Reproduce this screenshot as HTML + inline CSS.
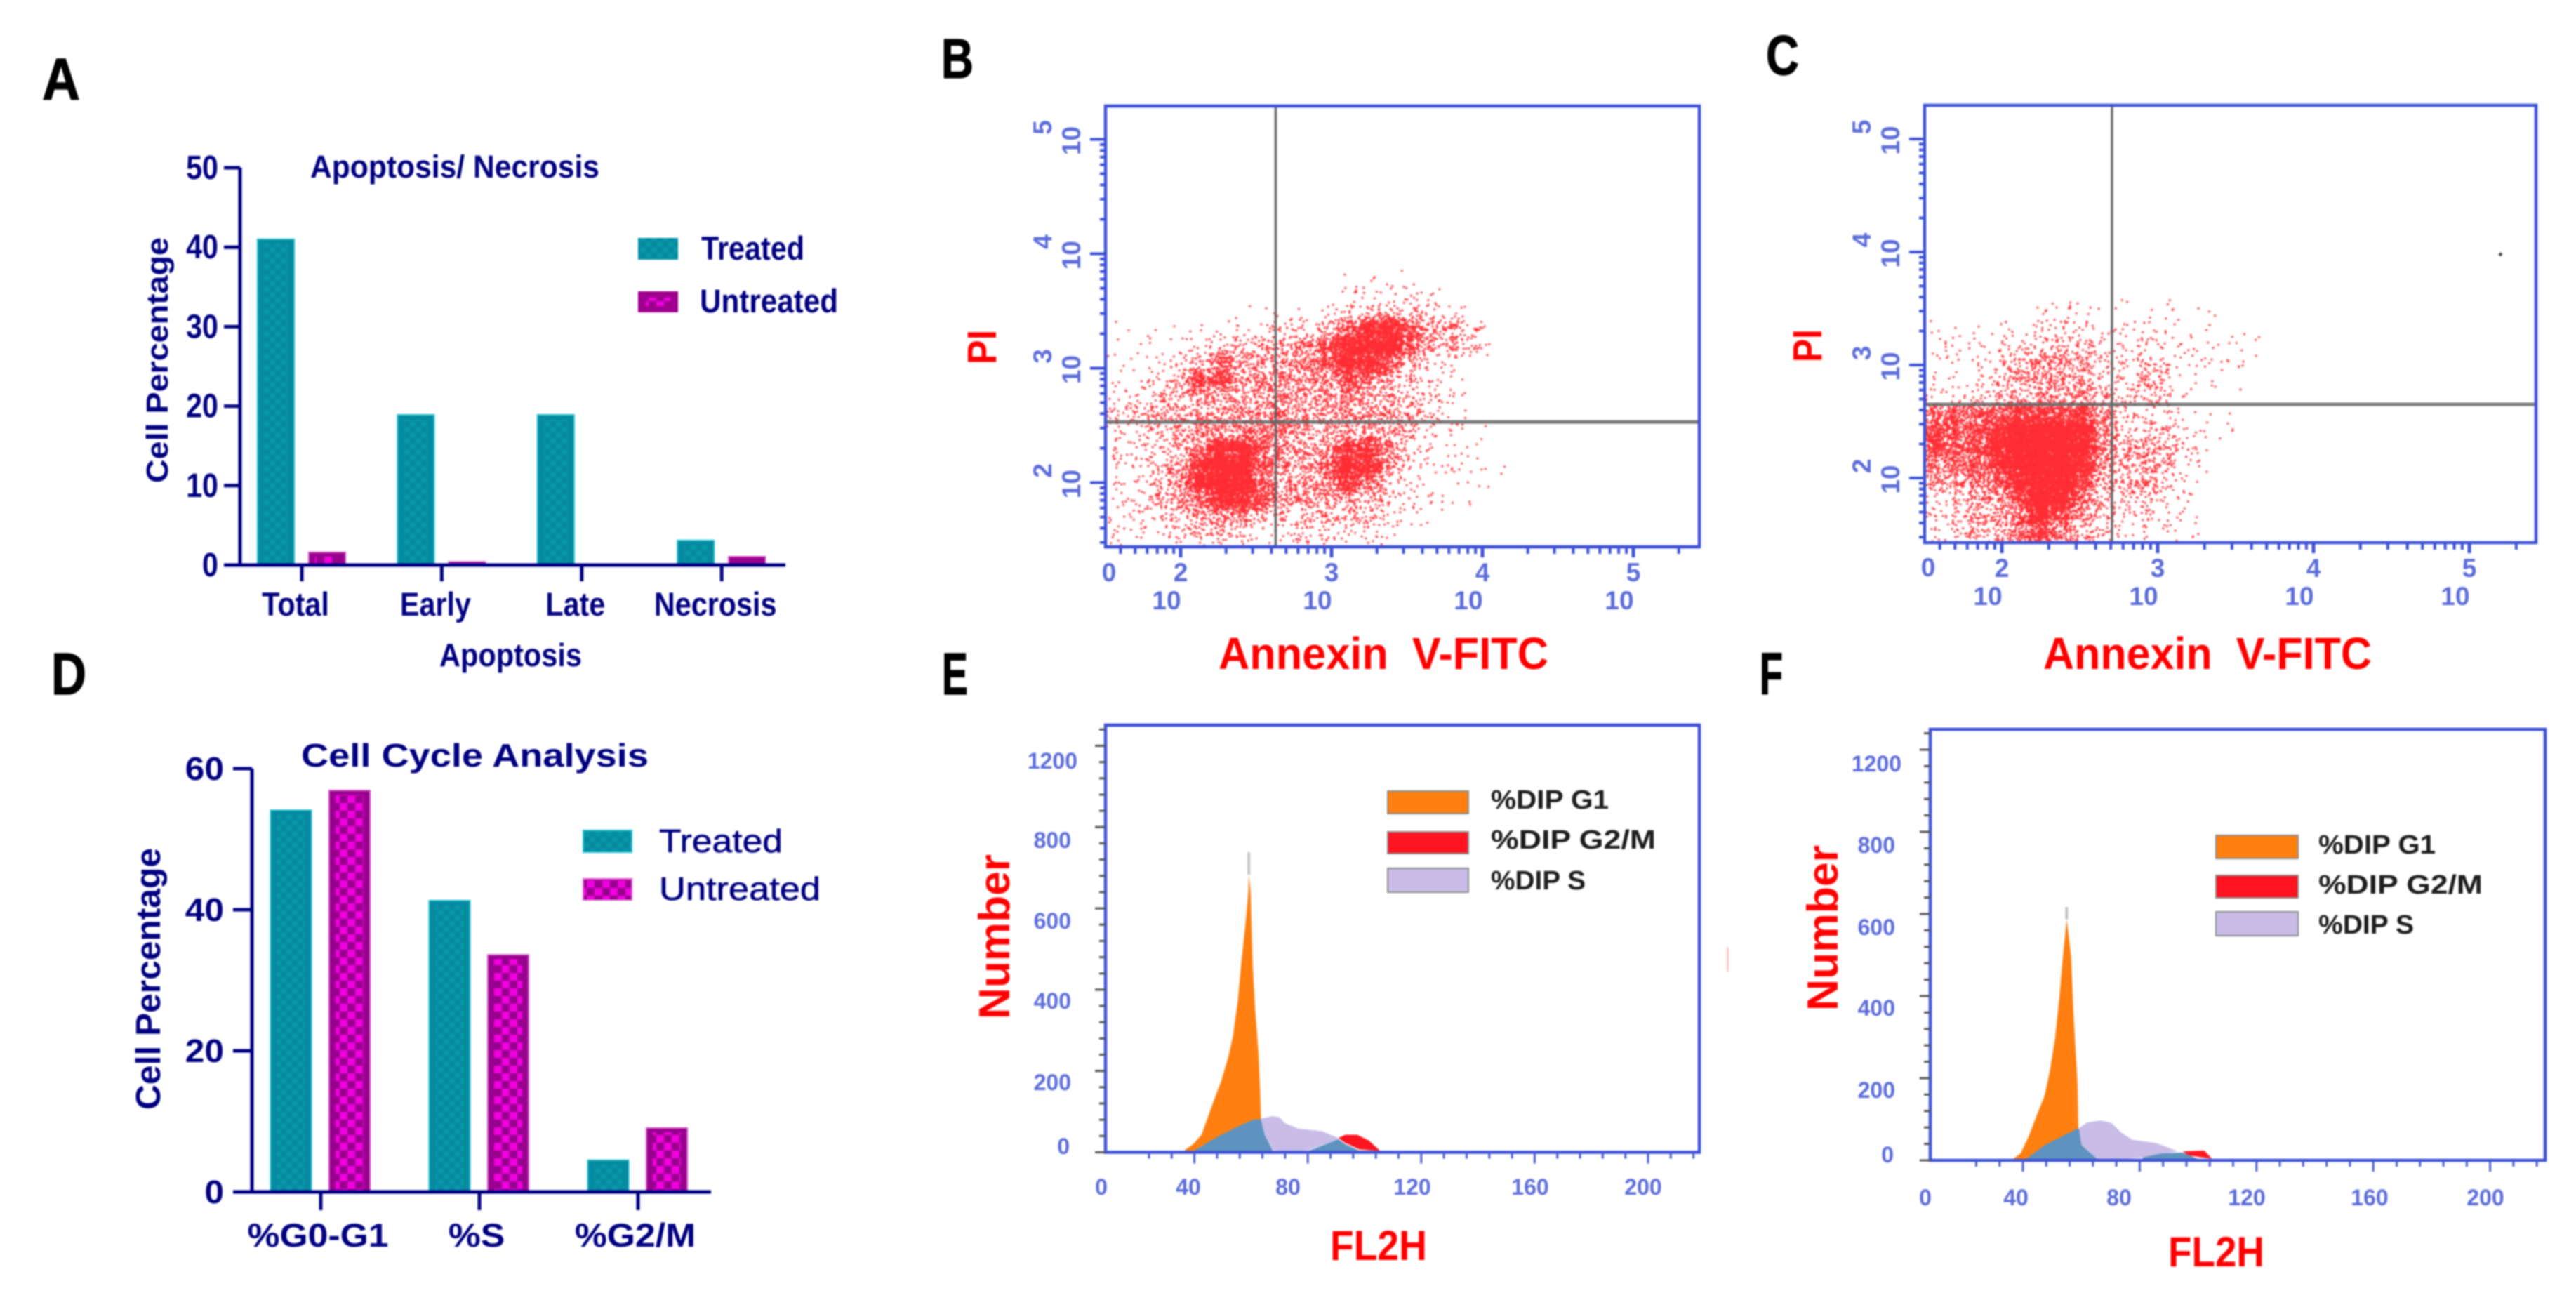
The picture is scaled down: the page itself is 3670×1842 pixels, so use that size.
<!DOCTYPE html>
<html lang="en">
<head>
<meta charset="utf-8">
<title>Apoptosis and cell cycle analysis figure</title>
<style>
html,body{margin:0;padding:0;background:#fff;}
svg{display:block;filter:blur(1px);}
text{font-family:"Liberation Sans",sans-serif;white-space:pre;}
.lt{font-weight:700;fill:#000;stroke:#000;stroke-width:1.2px;}
.nv{font-weight:700;fill:#000080;}
.nn{font-weight:400;fill:#000080;stroke:#000080;stroke-width:.6px;}
.rd{font-weight:700;fill:#ff0000;}
.bl{font-weight:700;fill:#5b6cd8;}
.lg{font-weight:700;fill:#1c1c1c;}
</style>
</head>
<body>
<svg id="fig" xmlns="http://www.w3.org/2000/svg" width="3670" height="1842" viewBox="0 0 3670 1842">
<defs>
<pattern id="chkM" width="22" height="22" patternUnits="userSpaceOnUse"><rect width="22" height="22" fill="#98008e"/><rect width="11" height="11" fill="#f000de"/><rect x="11" y="11" width="11" height="11" fill="#f000de"/></pattern>
<pattern id="chkT" width="16" height="16" patternUnits="userSpaceOnUse"><rect width="16" height="16" fill="#058aa0"/><rect width="8" height="8" fill="#0996ab"/><rect x="8" y="8" width="8" height="8" fill="#0996ab"/></pattern>
<filter id="soft" x="-5%" y="-5%" width="110%" height="110%"><feGaussianBlur stdDeviation="0.6"/></filter>
<clipPath id="clipB"><rect x="1575" y="151" width="846" height="640"/></clipPath>
<clipPath id="clipC"><rect x="2742" y="150" width="871" height="625"/></clipPath>
</defs>
<rect width="3670" height="1842" fill="#fff"/>

<text class="lt" x="60" y="142" font-size="84" textLength="54" lengthAdjust="spacingAndGlyphs">A</text>
<text class="lt" x="1341" y="111" font-size="80" textLength="46" lengthAdjust="spacingAndGlyphs">B</text>
<text class="lt" x="2516" y="106" font-size="80" textLength="47" lengthAdjust="spacingAndGlyphs">C</text>
<text class="lt" x="73" y="989" font-size="84" textLength="50" lengthAdjust="spacingAndGlyphs">D</text>
<text class="lt" x="1342" y="989" font-size="84" textLength="37" lengthAdjust="spacingAndGlyphs">E</text>
<text class="lt" x="2507" y="989" font-size="84" textLength="33" lengthAdjust="spacingAndGlyphs">F</text>

<g id="panelA">
<text class="nv" x="442" y="253" font-size="45" textLength="412" lengthAdjust="spacingAndGlyphs">Apoptosis/ Necrosis</text>
<text class="nv" transform="translate(239,688) rotate(-90)" font-size="44" textLength="350" lengthAdjust="spacingAndGlyphs">Cell Percentage</text>
<text class="nv" x="626" y="949" font-size="46" textLength="203" lengthAdjust="spacingAndGlyphs">Apoptosis</text>
<rect x="909" y="339" width="57" height="31" fill="url(#chkT)"/>
<text class="nv" x="999" y="370" font-size="47" textLength="147" lengthAdjust="spacingAndGlyphs">Treated</text>
<rect x="909" y="415" width="57" height="30" fill="#a0008e"/>
<rect x="920" y="424" width="35" height="12" fill="url(#chkM)"/>
<text class="nv" x="997" y="445" font-size="47" textLength="197" lengthAdjust="spacingAndGlyphs">Untreated</text>
</g>

<g id="panelD">
<text class="nv" x="429" y="1092" font-size="46" textLength="495" lengthAdjust="spacingAndGlyphs">Cell Cycle Analysis</text>
<text class="nv" transform="translate(228,1581) rotate(-90)" font-size="49" textLength="373" lengthAdjust="spacingAndGlyphs">Cell Percentage</text>
<rect x="831" y="1183" width="69" height="31" fill="url(#chkT)" stroke="#20c0cc" stroke-width="2"/>
<text class="nn" x="939" y="1214" font-size="46" textLength="176" lengthAdjust="spacingAndGlyphs">Treated</text>
<rect x="831" y="1252" width="69" height="30" fill="url(#chkM)" stroke="#d860c8" stroke-width="2"/>
<text class="nn" x="939" y="1282" font-size="46" textLength="230" lengthAdjust="spacingAndGlyphs">Untreated</text>
</g>

<g id="panelB">
<text class="rd" transform="translate(1419,519) rotate(-90)" font-size="58" textLength="49" lengthAdjust="spacingAndGlyphs">PI</text>
<text class="rd" x="1736" y="953" font-size="64" textLength="470" lengthAdjust="spacingAndGlyphs">Annexin  V-FITC</text>
<text class="bl" x="1580" y="828" font-size="37" text-anchor="middle">0</text>
</g>

<g id="panelC">
<text class="rd" transform="translate(2595,516) rotate(-90)" font-size="58" textLength="47" lengthAdjust="spacingAndGlyphs">PI</text>
<text class="rd" x="2911" y="953" font-size="64" textLength="468" lengthAdjust="spacingAndGlyphs">Annexin  V-FITC</text>
<text class="bl" x="2747" y="821" font-size="37" text-anchor="middle">0</text>
</g>

<g id="panelE">
<text class="bl" x="1535" y="1095" font-size="32" text-anchor="end">1200</text>
<text class="bl" x="1526" y="1208" font-size="32" text-anchor="end">800</text>
<text class="bl" x="1526" y="1323" font-size="32" text-anchor="end">600</text>
<text class="bl" x="1526" y="1437" font-size="32" text-anchor="end">400</text>
<text class="bl" x="1526" y="1553" font-size="32" text-anchor="end">200</text>
<text class="bl" x="1524" y="1644" font-size="32" text-anchor="end">0</text>
<text class="bl" x="1569" y="1702" font-size="32" text-anchor="middle">0</text>
<text class="bl" x="1693" y="1702" font-size="32" text-anchor="middle">40</text>
<text class="bl" x="1835" y="1702" font-size="32" text-anchor="middle">80</text>
<text class="bl" x="2012" y="1702" font-size="32" text-anchor="middle">120</text>
<text class="bl" x="2180" y="1702" font-size="32" text-anchor="middle">160</text>
<text class="bl" x="2341" y="1702" font-size="32" text-anchor="middle">200</text>
<text class="rd" transform="translate(1438,1452) rotate(-90)" font-size="62" textLength="235" lengthAdjust="spacingAndGlyphs">Number</text>
<text class="rd" x="1895" y="1795" font-size="60" textLength="138" lengthAdjust="spacingAndGlyphs">FL2H</text>
<rect x="1977" y="1127" width="115" height="32" fill="#ff7f10" stroke="#8a8a8a" stroke-width="2"/>
<rect x="1977" y="1185" width="115" height="31" fill="#ff1420" stroke="#8a8a8a" stroke-width="2"/>
<rect x="1977" y="1237" width="115" height="34" fill="#c9bde8" stroke="#8a8a8a" stroke-width="2"/>
<text class="lg" x="2124" y="1152" font-size="38" textLength="168" lengthAdjust="spacingAndGlyphs">%DIP G1</text>
<text class="lg" x="2124" y="1209" font-size="38" textLength="235" lengthAdjust="spacingAndGlyphs">%DIP G2/M</text>
<text class="lg" x="2124" y="1267" font-size="38" textLength="135" lengthAdjust="spacingAndGlyphs">%DIP S</text>
<rect x="2460" y="1349" width="3" height="35" fill="#ffc8c8"/>
</g>

<g id="panelF">
<text class="bl" x="2709" y="1099" font-size="32" text-anchor="end">1200</text>
<text class="bl" x="2700" y="1215" font-size="32" text-anchor="end">800</text>
<text class="bl" x="2700" y="1332" font-size="32" text-anchor="end">600</text>
<text class="bl" x="2700" y="1447" font-size="32" text-anchor="end">400</text>
<text class="bl" x="2700" y="1564" font-size="32" text-anchor="end">200</text>
<text class="bl" x="2698" y="1656" font-size="32" text-anchor="end">0</text>
<text class="bl" x="2743" y="1717" font-size="32" text-anchor="middle">0</text>
<text class="bl" x="2872" y="1717" font-size="32" text-anchor="middle">40</text>
<text class="bl" x="3019" y="1717" font-size="32" text-anchor="middle">80</text>
<text class="bl" x="3201" y="1717" font-size="32" text-anchor="middle">120</text>
<text class="bl" x="3376" y="1717" font-size="32" text-anchor="middle">160</text>
<text class="bl" x="3541" y="1717" font-size="32" text-anchor="middle">200</text>
<text class="rd" transform="translate(2618,1440) rotate(-90)" font-size="62" textLength="236" lengthAdjust="spacingAndGlyphs">Number</text>
<text class="rd" x="3089" y="1804" font-size="60" textLength="137" lengthAdjust="spacingAndGlyphs">FL2H</text>
<rect x="3157" y="1190" width="117" height="33" fill="#ff7f10" stroke="#8a8a8a" stroke-width="2"/>
<rect x="3157" y="1247" width="117" height="32" fill="#ff1420" stroke="#8a8a8a" stroke-width="2"/>
<rect x="3157" y="1299" width="117" height="34" fill="#c9bde8" stroke="#8a8a8a" stroke-width="2"/>
<text class="lg" x="3303" y="1216" font-size="38" textLength="167" lengthAdjust="spacingAndGlyphs">%DIP G1</text>
<text class="lg" x="3303" y="1273" font-size="38" textLength="234" lengthAdjust="spacingAndGlyphs">%DIP G2/M</text>
<text class="lg" x="3303" y="1330" font-size="38" textLength="136" lengthAdjust="spacingAndGlyphs">%DIP S</text>
</g>
</svg>

<script>
/* ---------- Panel A data ---------- */
const apopCategories = ['Total', 'Early', 'Late', 'Necrosis'];
const apopTreated = [41, 18.9, 18.9, 3.1];
const apopUntreated = [1.6, 0.4, 0.05, 1.06];
const apopYTicks = [0, 10, 20, 30, 40, 50];

/* ---------- Panel D data ---------- */
const cycleCategories = ['%G0-G1', '%S', '%G2/M'];
const cycleTreated = [54.1, 41.3, 4.5];
const cycleUntreated = [56.9, 33.6, 9.05];
const cycleYTicks = [0, 20, 40, 60];

/* ---------- Scatter panels: events per density cell ---------- */
const scatterBDensity = [
  [0,0,0,0,0,0,0,0,0,0,0,1,2,0,1,0,0,0],
  [0,0,0,0,0,0,0,0,0,0,0,2,5,4,6,4,0,0],
  [0,0,0,0,0,0,1,1,1,2,4,10,15,15,14,8,3,0],
  [1,1,1,0,2,3,4,5,8,10,18,60,170,190,90,30,30,12],
  [1,1,2,3,6,12,15,20,25,45,90,220,270,270,90,20,25,12],
  [1,2,4,8,18,80,30,25,30,50,80,220,180,90,18,5,5,0],
  [2,3,8,18,110,110,30,40,40,30,40,90,50,25,15,5,3,0],
  [3,8,15,25,30,25,30,35,40,30,35,45,30,25,20,8,4,0],
  [10,15,25,25,30,28,35,35,50,28,30,35,35,30,22,12,3,0],
  [6,8,15,25,35,40,50,50,50,30,25,25,35,28,20,6,4,1],
  [8,6,10,18,60,210,210,70,40,30,35,150,150,40,10,4,3,2],
  [3,5,10,30,170,330,280,80,35,22,70,210,180,40,8,3,4,3,1],
  [3,5,15,40,200,330,300,75,30,30,55,140,60,14,6,2,1,1],
  [4,6,20,30,70,180,210,90,30,30,25,30,25,10,5,3,2,1],
  [4,5,8,14,25,40,30,12,12,15,20,18,14,8,2,1,0,0],
  [6,4,3,8,16,18,8,3,6,10,6,6,8,1,0,0,0,0]
];
const scatterCDensity = [
  [0,0,0,0,0,3,4,3,1,2,1,2,1,1,0,0],
  [2,2,1,3,2,6,8,8,3,3,3,2,1,1,0,0],
  [2,3,4,5,6,12,14,14,6,5,7,6,3,2,2,3],
  [2,3,4,8,22,40,32,28,10,8,14,8,3,3,3,1],
  [3,2,6,10,25,35,30,25,12,6,25,10,2,2,1,0],
  [6,5,8,14,28,32,30,45,25,10,18,10,2,0,0,0],
  [70,75,75,80,130,120,100,130,35,10,6,5,2,1,1,0],
  [120,100,100,170,340,360,360,260,50,12,10,14,6,1,1,0],
  [120,90,100,220,350,380,380,260,45,25,30,25,8,1,0,0],
  [50,55,80,170,320,360,380,240,40,20,30,18,4,1,0,0],
  [30,30,50,70,220,360,360,120,30,20,30,10,3,0,0,0],
  [8,12,30,30,90,340,250,60,18,10,15,5,3,0,0,0],
  [6,12,30,30,70,220,80,30,15,5,10,6,3,0,0,0],
  [5,8,20,20,55,110,50,25,12,3,6,4,2,0,0,0]
];
const scatterTickExponents = [2, 3, 4, 5];
const scatterBGateX = [2.63];
const scatterBGateY = [2.53];
const scatterCGateX = [2.707];
const scatterCGateY = [2.652];
const scatterCStrayX = [5.2];
const scatterCStrayY = [3.98];

/* ---------- Panel E histogram outlines: FL2H channel and event count ---------- */
const eG1Channel = [36.7,39.6,42.5,44.6,47,49.5,51.9,53.6,55.3,56.5,58.1,59,59.2,59.8,60.6,61.4,62.6,63.3,63.5];
const eG1Count = [6,20,43,83,130,176,233,285,371,463,567,640,683,640,458,354,245,130,83];
const eSChannel = [63.5,67.7,70.1,71.8,76.7,85,90.8,90.8,80.1,73.4,67.7,64.8];
const eSCount = [83,89,86,72,58,52,35,32,5,2,5,43];
const eG2Channel = [90.8,93.2,97.4,101.5,105.6,98.2,93.2];
const eG2Count = [35,43,43,29,3,7,23];
const eOverlapG1SChannel = [39.6,47.8,56.1,61,63.5,64.8,67.7];
const eOverlapG1SCount = [3,37,66,81,81,43,3];
const eOverlapSG2Channel = [80.1,90.8,93.2,98.2];
const eOverlapSG2Count = [3,32,20,4];
const eSpikeChannel = [59.2];
const eSpikeCount = [738];

/* ---------- Panel F histogram outlines ---------- */
const fG1Channel = [36.4,39.2,41.9,44.6,47.4,49.2,51,52.5,53.7,54.7,55,56.5,57.4,58.7,59];
const fG1Count = [2,17,57,107,157,217,297,397,497,567,587,497,347,187,77];
const fSChannel = [59,61.9,66.5,70.2,73.8,77.5,85.7,93,82,71.1,65.6,60.1];
const fSCount = [77,92,97,92,67,50,42,22,7,2,2,37];
const fG2Channel = [94.8,102.1,104.8,96.6];
const fG2Count = [22,24,4,12];
const fOverlapG1SChannel = [40.9,47.4,58.5,59.2,60.1,65.6];
const fOverlapG1SCount = [2,37,77,77,37,2];
const fOverlapSG2Channel = [81,87.5,94.8,100.3];
const fOverlapSG2Count = [7,17,19,2];
const fSpikeChannel = [55];
const fSpikeCount = [617];

/* ---------- Shared histogram axis ---------- */
const histYTicks = [0,40,80,120,160,200,240,280,320,360,400,440,480,520,560,600,640,680,720,760,800,840,880,920,960,1000,1040];
const histXTicks = [24,32,40,48,56,64,72,80,88,96,104,112,120,128,136,144,152,160,168,176,184,192,200,208,216];

const NS = 'http://www.w3.org/2000/svg';
function mk(parent, tag, attrs) {
  const el = document.createElementNS(NS, tag);
  for (const k in attrs) el.setAttribute(k, attrs[k]);
  parent.appendChild(el);
  return el;
}
function tickLabel(parent, text, x, y, size, stretch, cls, anchor) {
  const el = mk(parent, 'text', {class: cls, 'font-size': size, 'text-anchor': anchor,
    transform: 'translate(' + x + ',' + y + ') scale(' + stretch + ',1)'});
  el.textContent = text;
  return el;
}

/* ---------- Bar charts ---------- */
function drawBars(cfg) {
  const g = document.getElementById(cfg.id);
  const yS = v => cfg.y0 - v * cfg.yUnit;
  const xS = i => cfg.x0 + i * cfg.band;
  function bar(cx, v, base, texture, edge, name) {
    const left = cx - cfg.w / 2;
    const b = mk(g, 'rect', {x: left, y: yS(v), width: cfg.w, height: cfg.y0 - yS(v), fill: base, stroke: edge, 'stroke-width': 2});
    
    
    if (cfg.y0 - yS(v) > 14) {
      const inner = mk(g, 'rect', {x: left + cfg.inset, y: yS(v) + 6, width: cfg.w - cfg.inset * 2, height: cfg.y0 - yS(v) - 6, fill: texture});
      
      
    }
  }
  cfg.treated.forEach((v, i) => bar(xS(i) + cfg.tOff, v, '#058aa0', 'url(#chkT)', '#22bccb', 'bar-treated'));
  cfg.untreated.forEach((v, i) => bar(xS(i) + cfg.uOff, v, '#98008e', 'url(#chkM)', '#d050c0', 'bar-untreated'));
  const yAxis = mk(g, 'line', {x1: cfg.axisX, x2: cfg.axisX, y1: yS(cfg.yTicks[cfg.yTicks.length - 1]), y2: cfg.y0, stroke: '#000080', 'stroke-width': cfg.sw});
  
  
  const xAxis = mk(g, 'line', {x1: cfg.tickLeft, x2: cfg.axisEnd, y1: cfg.y0, y2: cfg.y0, stroke: '#000080', 'stroke-width': cfg.sw});
  
  
  cfg.yTicks.forEach(v => {
    const t = mk(g, 'line', {x1: cfg.tickLeft, x2: cfg.axisX, y1: yS(v), y2: yS(v), stroke: '#000080', 'stroke-width': cfg.sw});
    
    
    const l = tickLabel(g, String(v), cfg.yLabelRight, yS(v) + 16, cfg.ySize, cfg.yStretch, 'nv', 'end');
    
    
  });
  cfg.categories.forEach((c, i) => {
    const t = mk(g, 'line', {x1: xS(i), x2: xS(i), y1: cfg.y0, y2: cfg.tickBottom, stroke: '#000080', 'stroke-width': cfg.sw});
    
    
    const l = tickLabel(g, c, xS(i) + cfg.labelOff, cfg.labelY, cfg.xSize, cfg.xStretch, 'nv', 'middle');
    
    
  });
}
drawBars({id: 'panelA', categories: apopCategories, treated: apopTreated, untreated: apopUntreated, yTicks: apopYTicks,
  x0: 430, band: 199.4, tOff: -37, uOff: 36, w: 52, y0: 805, yUnit: 11.32, axisX: 342, tickLeft: 319, axisEnd: 1119,
  tickBottom: 828, sw: 5, yLabelRight: 311, ySize: 48, yStretch: .86, labelOff: -9, labelY: 877, xSize: 47, xStretch: .88, inset: 9});
drawBars({id: 'panelD', categories: cycleCategories, treated: cycleTreated, untreated: cycleUntreated, yTicks: cycleYTicks,
  x0: 457, band: 226, tOff: -42.5, uOff: 41, w: 58, y0: 1698, yUnit: 10.05, axisX: 359, tickLeft: 332, axisEnd: 1013,
  tickBottom: 1724, sw: 5, yLabelRight: 319, ySize: 46, yStretch: 1.08, labelOff: -4, labelY: 1776, xSize: 47, xStretch: 1.1, inset: 9});

/* ---------- Scatter plots ---------- */
const dotsPerDensityUnit = 1.5;
function scramble(k) {
  const s = Math.sin(k * 12.9898) * 43758.5453;
  return s - Math.floor(s);
}
function drawScatter(cfg) {
  const g = document.getElementById(cfg.id);
  const xS = v => cfg.x2 + (v - 2) * cfg.xDec;
  const yS = v => cfg.y2 - (v - 2) * cfg.yDec;
  let d = '', n = 0;
  cfg.density.forEach((row, r) => {
    row.forEach((count, c) => {
      const total = Math.round(count * dotsPerDensityUnit);
      for (let k = 0; k < total; k++) {
        n += 4;
        const jx = (scramble(n) + scramble(n + 1) - 1) * 0.78 + 0.5;
        const jy = (scramble(n + 2) + scramble(n + 3) - 1) * 0.78 + 0.5;
        const vx = cfg.xStart + (c + jx) * cfg.xStep;
        const vy = cfg.yStart - (r + jy) * cfg.yStep;
        d += 'M' + xS(vx).toFixed(1) + ' ' + yS(vy).toFixed(1) + 'h0';
      }
    });
  });
  const dots = mk(g, 'path', {d: d, fill: 'none', stroke: '#ff1a22', 'stroke-width': 3, 'stroke-linecap': 'round', opacity: .92, filter: 'url(#soft)', 'clip-path': 'url(#' + cfg.clip + ')'});
  
  
  cfg.gateX.forEach(v => {
    const l = mk(g, 'line', {x1: xS(v), x2: xS(v), y1: cfg.top, y2: cfg.bottom, stroke: '#5e5e5e', 'stroke-width': 3.5, opacity: .9});
    
    
  });
  cfg.gateY.forEach(v => {
    const l = mk(g, 'line', {x1: cfg.left, x2: cfg.right, y1: yS(v), y2: yS(v), stroke: '#666', 'stroke-width': 5, opacity: .85});
    
    
  });
  const frame = mk(g, 'rect', {x: cfg.left, y: cfg.top, width: cfg.right - cfg.left, height: cfg.bottom - cfg.top, fill: 'none', stroke: '#3c50d4', 'stroke-width': 4.5});
  
  
  for (let dec = 1; dec <= 5; dec++) {
    for (let m = 1; m <= 9; m++) {
      const v = dec + Math.log10(m);
      const yy = yS(v), xx = xS(v);
      if (yy > cfg.top + 8 && yy < cfg.bottom - 2) {
        const t = mk(g, 'line', {x1: cfg.left - (m === 1 ? 22 : 8), x2: cfg.left, y1: yy, y2: yy, stroke: '#3c50d4', 'stroke-width': 4});
        
        
      }
      if (xx > cfg.left + 8 && xx < cfg.right - 2) {
        const t = mk(g, 'line', {x1: xx, x2: xx, y1: cfg.bottom, y2: cfg.bottom + (m === 1 ? 15 : 10), stroke: '#3c50d4', 'stroke-width': m === 1 ? 5 : 4});
        
        
      }
    }
  }
  scatterTickExponents.forEach(e => {
    const base = mk(g, 'text', {class: 'bl', 'font-size': 37, 'text-anchor': 'middle', transform: 'translate(' + (cfg.left - 36) + ',' + (yS(e) + 2) + ') rotate(-90)'});
    base.textContent = '10';
    
    
    const exp = mk(g, 'text', {class: 'bl', 'font-size': 37, 'text-anchor': 'middle', transform: 'translate(' + (cfg.left - 77) + ',' + (yS(e) - 17) + ') rotate(-90)'});
    exp.textContent = String(e);
    
    
    const xe = mk(g, 'text', {class: 'bl', 'font-size': 37, 'text-anchor': 'middle', x: xS(e), y: cfg.bottom + 49});
    xe.textContent = String(e);
    
    
    const xb = mk(g, 'text', {class: 'bl', 'font-size': 37, 'text-anchor': 'middle', x: xS(e) - 20, y: cfg.bottom + 89});
    xb.textContent = '10';
    
    
  });
  cfg.strayX.forEach((v, i) => {
    const s = mk(g, 'circle', {cx: xS(v), cy: yS(cfg.strayY[i]), r: 2.5, fill: '#444'});
    
    
  });
}
drawScatter({id: 'panelB', density: scatterBDensity, gateX: scatterBGateX, gateY: scatterBGateY, strayX: [], strayY: [],
  left: 1575, right: 2421, top: 151, bottom: 779, x2: 1682, xDec: 215, y2: 687.5, yDec: 163,
  xStart: 1.502, xStep: .1395, yStart: 3.868, yStep: .15, clip: 'clipB'});
drawScatter({id: 'panelC', density: scatterCDensity, gateX: scatterCGateX, gateY: scatterCGateY, strayX: scatterCStrayX, strayY: scatterCStrayY,
  left: 2742, right: 3613, top: 150, bottom: 773, x2: 2852, xDec: 222, y2: 681, yDec: 161,
  xStart: 1.505, xStep: .135, yStart: 3.559, yStep: .152, clip: 'clipC'});

/* ---------- Histograms ---------- */
function drawHist(cfg) {
  const g = document.getElementById(cfg.id);
  const xS = v => cfg.xZero + v * cfg.xUnit;
  const yS = v => cfg.y0 - v * cfg.yUnit;
  const loop = (xs, cs) => xs.map((x, i) => xS(x).toFixed(1) + ',' + yS(cs[i]).toFixed(1)).join(' ');
  const peakCount = Math.max.apply(null, cfg.g1Y);
  cfg.spikeX.forEach((x, i) => {
    const s = mk(g, 'line', {x1: xS(x), x2: xS(x), y1: yS(cfg.spikeY[i]), y2: yS(peakCount), stroke: '#c4c4c4', 'stroke-width': 4});
    
    
  });
  const last = cfg.g1X.length - 1;
  const g1 = mk(g, 'polygon', {points: xS(cfg.g1X[0]) + ',' + cfg.y0 + ' ' + loop(cfg.g1X, cfg.g1Y) + ' ' + xS(cfg.g1X[last]) + ',' + cfg.y0, fill: '#ff7f10'});
  
  
  const s = mk(g, 'polygon', {points: loop(cfg.sX, cfg.sY), fill: '#c9bde8'});
  
  
  const g2 = mk(g, 'polygon', {points: loop(cfg.g2X, cfg.g2Y), fill: '#ff1420'});
  
  
  const o1 = mk(g, 'polygon', {points: xS(cfg.o1X[0]) + ',' + cfg.y0 + ' ' + loop(cfg.o1X, cfg.o1Y) + ' ' + xS(cfg.o1X[cfg.o1X.length - 1]) + ',' + cfg.y0, fill: '#5f93bf'});
  
  
  const o2 = mk(g, 'polygon', {points: xS(cfg.o2X[0]) + ',' + cfg.y0 + ' ' + loop(cfg.o2X, cfg.o2Y) + ' ' + xS(cfg.o2X[cfg.o2X.length - 1]) + ',' + cfg.y0, fill: '#5f93bf'});
  
  
  const frame = mk(g, 'rect', {x: cfg.left, y: cfg.top, width: cfg.right - cfg.left, height: cfg.y0 - cfg.top, fill: 'none', stroke: '#3c50d4', 'stroke-width': 4.5});
  
  
  histYTicks.forEach(v => {
    const major = v % 200 === 0;
    const t = mk(g, 'line', {x1: cfg.left - (major ? 15 : 9), x2: cfg.left, y1: yS(v), y2: yS(v), stroke: '#555', 'stroke-width': 3});
    
    
  });
  histXTicks.forEach(v => {
    const major = v % 40 === 0;
    const t = mk(g, 'line', {x1: xS(v), x2: xS(v), y1: cfg.y0, y2: cfg.y0 + (major ? 16 : 9), stroke: '#4a5cd0', 'stroke-width': 3});
    
    
  });
}
drawHist({id: 'panelE', left: 1575, right: 2421, top: 1033, y0: 1641.5, xZero: 1540, xUnit: 4.04, yUnit: .579,
  g1X: eG1Channel, g1Y: eG1Count, sX: eSChannel, sY: eSCount, g2X: eG2Channel, g2Y: eG2Count,
  o1X: eOverlapG1SChannel, o1Y: eOverlapG1SCount, o2X: eOverlapSG2Channel, o2Y: eOverlapSG2Count,
  spikeX: eSpikeChannel, spikeY: eSpikeCount});
drawHist({id: 'panelF', left: 2750, right: 3626, top: 1039, y0: 1653, xZero: 2715.6, xUnit: 4.16, yUnit: .585,
  g1X: fG1Channel, g1Y: fG1Count, sX: fSChannel, sY: fSCount, g2X: fG2Channel, g2Y: fG2Count,
  o1X: fOverlapG1SChannel, o1Y: fOverlapG1SCount, o2X: fOverlapSG2Channel, o2Y: fOverlapSG2Count,
  spikeX: fSpikeChannel, spikeY: fSpikeCount});
</script>
</body>
</html>
